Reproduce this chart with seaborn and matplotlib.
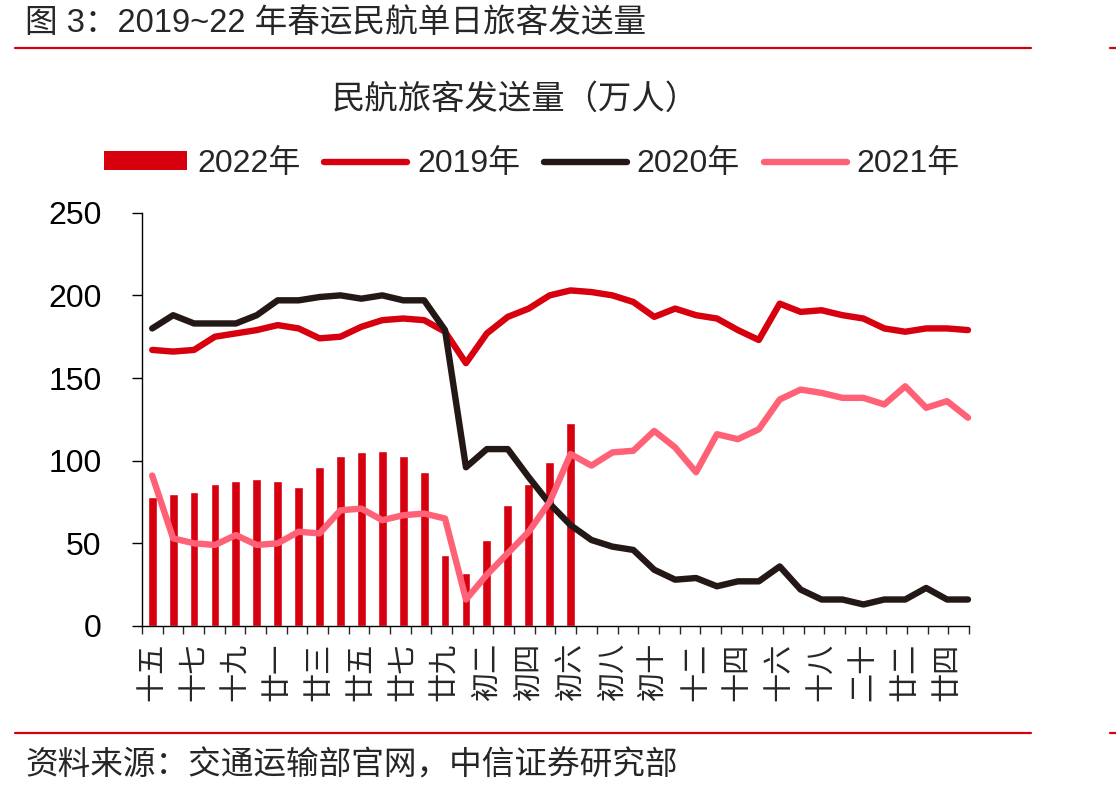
"""2019~22 年春运民航单日旅客发送量 — bars for 2022, lines for 2019/2020/2021."""
import numpy as np
import pandas as pd
import matplotlib
matplotlib.use("Agg")
import matplotlib.pyplot as plt
from matplotlib.lines import Line2D
from matplotlib.patches import Patch
import seaborn as sns

# 春运 40 days: 腊月十五 .. 廿九, 正月初一 .. 廿五
DAYS = ["十五", "十六", "十七", "十八", "十九", "二十", "廿一", "廿二", "廿三", "廿四",
        "廿五", "廿六", "廿七", "廿八", "廿九",
        "初一", "初二", "初三", "初四", "初五", "初六", "初七", "初八", "初九", "初十",
        "十一", "十二", "十三", "十四", "十五", "十六", "十七", "十八", "十九", "二十",
        "廿一", "廿二", "廿三", "廿四", "廿五"]

# 2022 (bars, only through 初六)
Y2022 = [78, 80, 81, 86, 88, 89, 88, 84, 96, 103, 105, 106, 103, 93, 43, 32,
         52, 73, 86, 99, 123]
Y2019 = [167, 166, 167, 175, 177, 179, 182, 180, 174, 175, 181, 185, 186, 185,
         178, 159, 177, 187, 192, 200, 203, 202, 200, 196, 187, 192, 188, 186,
         179, 173, 195, 190, 191, 188, 186, 180, 178, 180, 180, 179]
Y2020 = [180, 188, 183, 183, 183, 188, 197, 197, 199, 200, 198, 200, 197, 197,
         179, 96, 107, 107, 90, 74, 61, 52, 48, 46, 34, 28, 29, 24, 27, 27,
         36, 22, 16, 16, 13, 16, 16, 23, 16, 16]
Y2021 = [91, 53, 50, 49, 55, 49, 50, 57, 56, 70, 71, 64, 67, 68, 65, 16, 31,
         44, 57, 75, 104, 97, 105, 106, 118, 108, 93, 116, 113, 119, 137, 143,
         141, 138, 138, 134, 145, 132, 136, 126]

C_BAR = "#D7000F"
C_2019 = "#D7000F"
C_2020 = "#231815"
C_2021 = "#FF6176"
RED_RULE = "#D7000F"


def main():
    sns.set_theme(style="ticks")
    plt.rcParams["font.family"] = ["Liberation Sans", "Noto Sans CJK SC", "DejaVu Sans"]
    plt.rcParams["axes.linewidth"] = 1.0

    idx = np.arange(len(DAYS))
    lines = pd.DataFrame({"x": idx, "2019年": Y2019, "2020年": Y2020, "2021年": Y2021})

    fig = plt.figure(figsize=(11.16, 7.97), dpi=100)
    ax = fig.add_axes([0.1272, 0.2146, 0.8683 - 0.1272, 0.7331 - 0.2146])

    sns.barplot(x=idx[:len(Y2022)], y=Y2022, native_scale=True, width=0.42,
                color=C_BAR, saturation=1, errorbar=None, ax=ax, zorder=2)
    for col, c in [("2019年", C_2019), ("2020年", C_2020), ("2021年", C_2021)]:
        sns.lineplot(data=lines, x="x", y=col, color=c, linewidth=4.6, ax=ax,
                     solid_capstyle="round", solid_joinstyle="round", zorder=3,
                     clip_on=False)

    xmin, xmax = -0.49, 39.05
    ax.set_xlim(xmin, xmax)
    ax.set_ylim(0, 250)
    ax.set_xlabel("")
    ax.set_ylabel("")
    sns.despine(ax=ax)
    for s in ("left", "bottom"):
        ax.spines[s].set_color("black")

    ax.set_yticks([0, 50, 100, 150, 200, 250])
    ax.tick_params(axis="y", direction="out", length=7, width=1.0, pad=22,
                   labelsize=23, colors="black")

    # boundary tick marks (major, unlabeled) and day labels every other day (minor)
    ax.set_xticks(np.linspace(xmin, xmax, 41))
    ax.set_xticklabels([])
    ax.tick_params(axis="x", which="major", direction="out", length=6, width=1.0)
    ax.set_xticks(idx[::2], [DAYS[i] for i in idx[::2]], minor=True)
    ax.tick_params(axis="x", which="minor", length=0, pad=12, labelsize=21,
                   labelrotation=90)
    ax.grid(False)

    # legend
    handles = [Patch(facecolor=C_BAR, edgecolor="none"),
               Line2D([0], [0], color=C_2019, lw=4.6, solid_capstyle="round"),
               Line2D([0], [0], color=C_2020, lw=4.6, solid_capstyle="round"),
               Line2D([0], [0], color=C_2021, lw=4.6, solid_capstyle="round")]
    fig.legend(handles, ["2022年", "2019年", "2020年", "2021年"], loc="center",
               bbox_to_anchor=(0.4767, 0.7942), ncol=4, frameon=False,
               fontsize=23, handlelength=2.6, handleheight=0.55,
               handletextpad=0.3, columnspacing=0.75, borderpad=0)

    fig.text(0.4615, 0.8745, "民航旅客发送量（万人）", ha="center", va="center",
             fontsize=24)
    fig.text(0.0224, 0.971, "图 3：2019~22 年春运民航单日旅客发送量", ha="left",
             va="center", fontsize=23.5)
    fig.text(0.0224, 0.039, "资料来源：交通运输部官网，中信证券研究部", ha="left",
             va="center", fontsize=23.5)

    # red rules under title and above source
    for y in (0.9398, 0.0807):
        fig.add_artist(Line2D([0.0134, 0.924], [y, y], color=RED_RULE, lw=1.6))
        fig.add_artist(Line2D([0.9946, 1.0], [y, y], color=RED_RULE, lw=1.6))

    fig.savefig("out.png", dpi=100, facecolor="white")
    plt.close(fig)


if __name__ == "__main__":
    main()
